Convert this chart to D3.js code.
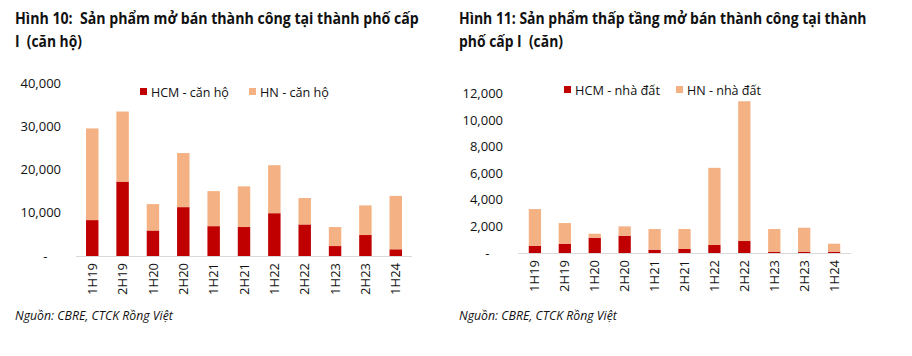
<!DOCTYPE html>
<html><head><meta charset="utf-8">
<script src="https://cdn.jsdelivr.net/npm/d3@7"></script>
<style>
body{margin:0;background:#fff;}
svg text{font-family:"Open Sans",sans-serif;fill:#111;white-space:pre;}
</style></head>
<body><svg id="c" width="912" height="356"></svg>
<script>
const categories = ["1H19","2H19","1H20","2H20","1H21","2H21","1H22","2H22","1H23","2H23","1H24"];
// Chart 1: apartments
const hcmApt = [8300,17200,5900,11300,6900,6700,9900,7300,2300,4850,1550];
const hnApt  = [21200,16200,6100,12500,8100,9400,11100,6100,4400,6850,12350];
const yTicksApt = [0,10000,20000,30000,40000];
// Chart 2: landed houses
const hcmLand = [550,700,1150,1300,250,300,600,900,100,100,100];
const hnLand  = [2750,1550,300,700,1550,1500,5800,10500,1700,1800,600];
const yTicksLand = [0,2000,4000,6000,8000,10000,12000];

const RED = "#C00000", ORANGE = "#F4B183";
const svg = d3.select("#c");

// place text at (x,y) and scale it horizontally to width w
function squeezeText(g, x, y, w, txt, attrs){
  const t = g.append("text").attr("x",0).attr("y",0).attr("xml:space","preserve").text(txt);
  Object.entries(attrs).forEach(([k,v])=>t.attr(k,v));
  const nat = t.node().getComputedTextLength();
  t.attr("transform",`translate(${x},${y}) scale(${(w/nat).toFixed(4)},1)`);
  return t;
}

function panel(o){
  const g = svg.append("g");
  o.title.forEach((t,i)=>{
    squeezeText(g, o.tx, o.ty[i], o.tw[i], t, {"font-size":16.5,"font-weight":"bold"});
  });
  const x = d3.scaleBand().domain(categories).range(o.xr).paddingInner(0.59).paddingOuter(o.po);
  const y = d3.scaleLinear().domain([0,o.ymax]).range(o.yr);
  const stackData = categories.map((c,i)=>({cat:c, hcm:o.hcm[i], hn:o.hn[i]}));
  const series = d3.stack().keys(["hcm","hn"])(stackData);
  const colors = {hcm:RED, hn:ORANGE};
  series.forEach(s=>{
    g.append("g").selectAll("rect").data(s).join("rect")
      .attr("x",d=>x(d.data.cat)).attr("width",x.bandwidth())
      .attr("y",d=>y(d[1])).attr("height",d=>y(d[0])-y(d[1]))
      .attr("fill",colors[s.key]);
  });
  // baseline
  g.append("line").attr("x1",o.xr[0]).attr("x2",o.xr[1]).attr("y1",y(0)+0.5).attr("y2",y(0)+0.5)
    .attr("stroke","#d9d9d9").attr("stroke-width",1);
  // y axis
  const ya = d3.axisLeft(y).tickValues(o.yticks).tickSize(0)
    .tickFormat(v=> v===0 ? "-    " : d3.format(",")(v));
  const yg = g.append("g").attr("transform",`translate(${o.ylx},0)`).call(ya);
  yg.select(".domain").remove();
  yg.selectAll("text").attr("font-size",13).attr("fill","#111").attr("font-family",'"Open Sans",sans-serif')
    .attr("x",0).attr("xml:space","preserve");
  // x axis
  const xa = d3.axisBottom(x).tickSize(0);
  const xg = g.append("g").attr("transform",`translate(0,${y(0)})`).call(xa);
  xg.select(".domain").remove();
  xg.selectAll("text").attr("font-size",13).attr("fill","#111").attr("font-family",'"Open Sans",sans-serif')
    .attr("transform","rotate(-90)").attr("text-anchor","end").attr("x",-7).attr("y",0).attr("dy","0.35em");
  // legend
  o.legend.forEach((l,i)=>{
    g.append("rect").attr("x",l.x).attr("y",o.ly-4).attr("width",7).attr("height",7).attr("fill",i?ORANGE:RED);
    squeezeText(g, l.x+11, o.ly+4.5, l.w, l.t, {"font-size":13.5});
  });
  // source
  squeezeText(g, o.tx, 320, 158, "Nguồn: CBRE, CTCK Rồng Việt", {"font-size":13,"font-style":"italic"});
}

panel({
  title:["Hình 10:  Sản phẩm mở bán thành công tại thành phố cấp","I  (căn hộ)"],
  tx:15, ty:[24,47], tw:[404,67],
  xr:[76,412], po:0.33, yr:[256,83], ymax:40000,
  hcm:hcmApt, hn:hnApt, yticks:yTicksApt, ylx:61,
  legend:[{x:140,t:"HCM - căn hộ",w:78},{x:249,t:"HN - căn hộ",w:69}], ly:92
});
panel({
  title:["Hình 11: Sản phẩm thấp tầng mở bán thành công tại thành","phố cấp I  (căn)"],
  tx:459, ty:[24,47], tw:[408,104],
  xr:[518,851], po:0.36, yr:[253,93.3], ymax:12000,
  hcm:hcmLand, hn:hnLand, yticks:yTicksLand, ylx:503,
  legend:[{x:564,t:"HCM - nhà đất",w:85},{x:676,t:"HN - nhà đất",w:74}], ly:90
});
</script></body></html>
